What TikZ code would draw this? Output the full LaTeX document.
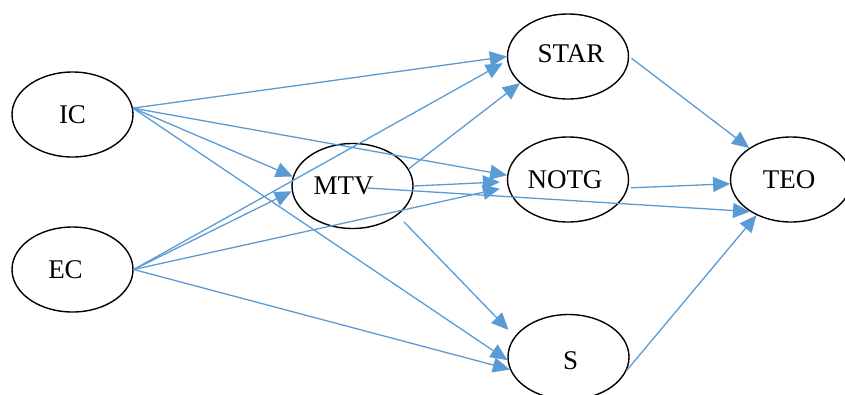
\documentclass[tikz,border=0pt]{standalone}
\usepackage{fontspec}
\setmainfont{Liberation Serif}
\usetikzlibrary{shapes.geometric,arrows.meta}
\definecolor{linkblue}{HTML}{5B9BD5}
\tikzset{
  el/.style={ellipse, draw=black, line width=1.4pt, minimum width=121pt,
             minimum height=85pt, inner sep=0pt, fill=none},
  lbl/.style={font=\fontsize{27}{31}\selectfont, inner sep=0pt},
  conn/.style={draw=linkblue, line width=1.3pt,
               -{Triangle[length=17pt,width=15pt]}}
}
\begin{document}
\begin{tikzpicture}[x=1pt,y=-1pt]
\useasboundingbox (0,0) rectangle (845,394);

% constructs
\node[el, label={[lbl]center:IC}] (IC) at (72.5,114.5) {};
\node[el, label={[lbl,xshift=-7pt]center:EC}] (EC) at (72.5,269.5) {};
\node[el, label={[lbl,xshift=-9pt]center:MTV}] (MTV) at (352.5,186) {};
\node[el, label={[lbl,xshift=3pt,yshift=3pt]center:STAR}] (STAR) at (568,56.5) {};
\node[el, label={[lbl,xshift=-3pt]center:NOTG}] (NOTG) at (568,179.5) {};
\node[el, label={[lbl,xshift=2pt,yshift=-4pt]center:S}] (S) at (568.5,357) {};
\node[el, label={[lbl,xshift=-2pt]center:TEO}] (TEO) at (791,179.5) {};

% paths from IC
\draw[conn] (IC.6) -- (STAR.180);
\draw[conn] (IC.6) -- (NOTG.176);
\draw[conn] (IC.6) -- (MTV.171);
\draw[conn] (IC.6) -- (S.183);

% paths from EC
\draw[conn] (EC.east) -- (MTV.185);
\draw[conn, shorten >=5pt] (EC.east) -- (STAR.184);
\draw[conn, shorten >=8pt] (EC.east) -- (NOTG.187);
\draw[conn] (EC.east) -- (S.192);

% paths from MTV
\draw[conn] (MTV.17) -- (STAR.209);
\draw[conn, shorten >=7pt] (MTV.east) -- (NOTG.182);
\draw[conn] ([xshift=15pt,yshift=-2pt]MTV.center) -- (TEO.218);
\draw[conn, shorten <=9pt, shorten >=9pt] (MTV.-33) -- (S.159);

% paths into TEO
\draw[conn, shorten <=3pt] (STAR.east) -- (TEO.143);
\draw[conn, shorten <=3pt] (NOTG.-8) -- (TEO.184);
\draw[conn] (S.-13) -- (TEO.226);
\end{tikzpicture}
\end{document}
